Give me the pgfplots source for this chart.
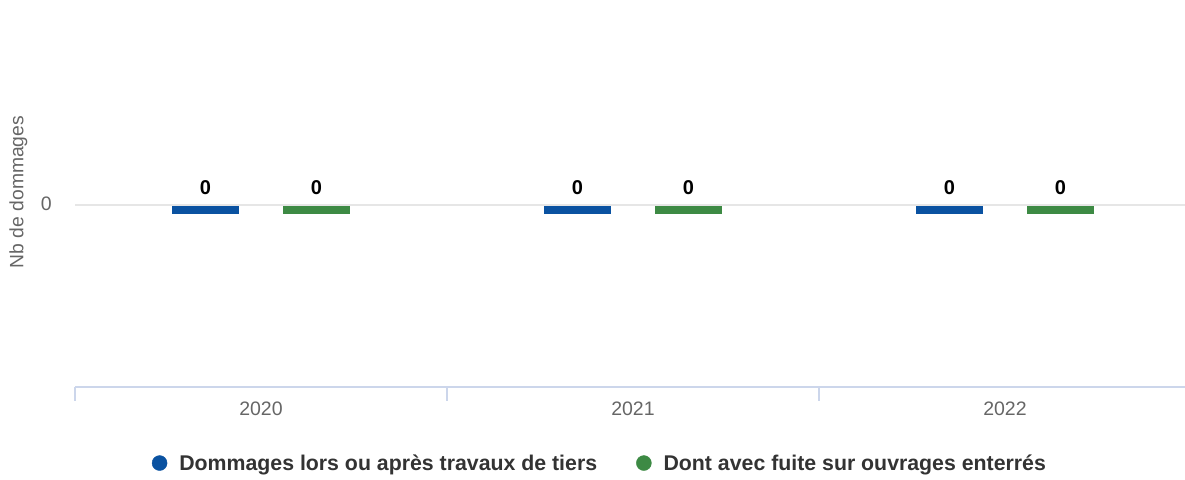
\documentclass[border=0pt]{standalone}
\usepackage{fontspec}
\setmainfont{Liberation Sans}
\usepackage{pgfplots}
\usepackage{pgfplotstable}
\pgfplotsset{compat=1.18}
\definecolor{cBlue}{HTML}{0A52A1}
\definecolor{cGreen}{HTML}{3D8A44}
\definecolor{cAxis}{HTML}{CCD6EB}
\definecolor{cGrid}{HTML}{E6E6E6}
\definecolor{cLabel}{HTML}{666666}
\definecolor{cLegend}{HTML}{333333}

% null values are still shown as a short bar just under the zero line
\pgfdeclareplotmark{zerobar}{%
  \pgfpathrectanglecorners{\pgfpoint{-33.5pt}{-9pt}}{\pgfpoint{33.5pt}{-1pt}}%
  \pgfusepathqfill}

\pgfplotstableread{
x year dommages fuite
0 2020 0 0
1 2021 0 0
2 2022 0 0
}\damages

\begin{document}
\begin{tikzpicture}
\path[use as bounding box] (0,0) rectangle (1185pt,479pt);
\begin{axis}[
  at={(75pt,92.3pt)}, anchor=south west,
  scale only axis, width=1110pt, height=279.7pt,
  xmin=-0.5, xmax=2.4839, ymin=-1.854, ymax=1,
  axis lines*=left,
  axis line style={-},
  x axis line style={draw=cAxis, line width=2pt},
  y axis line style={draw=none},
  xtick={0,1,2}, xticklabels={2020,2021,2022},
  minor xtick={-0.5,0.5,1.5},
  tick align=outside,
  major tick length=0pt, minor tick length=14pt,
  minor tick style={draw=cAxis, line width=1.5pt},
  ytick={0},
  ymajorgrids, grid style={draw=cGrid, line width=2pt},
  /pgf/number format/assume math mode=true,
  tick label style={font=\fontsize{19.5}{22}\selectfont, text=cLabel},
  yticklabel style={anchor=base east, inner sep=0pt, xshift=-23pt, yshift=-5pt},
  xticklabel style={anchor=base, inner sep=0pt, yshift=-29pt},
  ylabel={Nb de dommages},
  ylabel style={at={(axis description cs:-0.0509,0.696)}, anchor=center,
    font=\fontsize{19.3}{22}\selectfont, text=cLabel},
  legend style={at={(axis description cs:0.472,-0.273)}, anchor=center,
    draw=none, fill=none, legend columns=-1, inner sep=0pt,
    font=\bfseries\fontsize{21.3}{25}\selectfont, text=cLegend,
    /tikz/every odd column/.append style={column sep=12pt},
    /tikz/every even column/.append style={column sep=39pt},
    nodes={inner sep=0pt}},
  legend image code/.code={\fill (0pt,0pt) circle (7.5pt);},
  nodes near coords,
  nodes near coords style={anchor=base, inner sep=0pt, yshift=11pt, text=black,
    font=\bfseries\fontsize{20}{24}\selectfont},
]
\addplot[color=cBlue, only marks, mark=zerobar,
  x filter/.expression={x-0.1492}] table[x=x, y=dommages]{\damages};
\addlegendentry{Dommages lors ou après travaux de tiers}
\addplot[color=cGreen, only marks, mark=zerobar,
  x filter/.expression={x+0.1492}] table[x=x, y=fuite]{\damages};
\addlegendentry{Dont avec fuite sur ouvrages enterrés}
\end{axis}
\end{tikzpicture}
\end{document}
